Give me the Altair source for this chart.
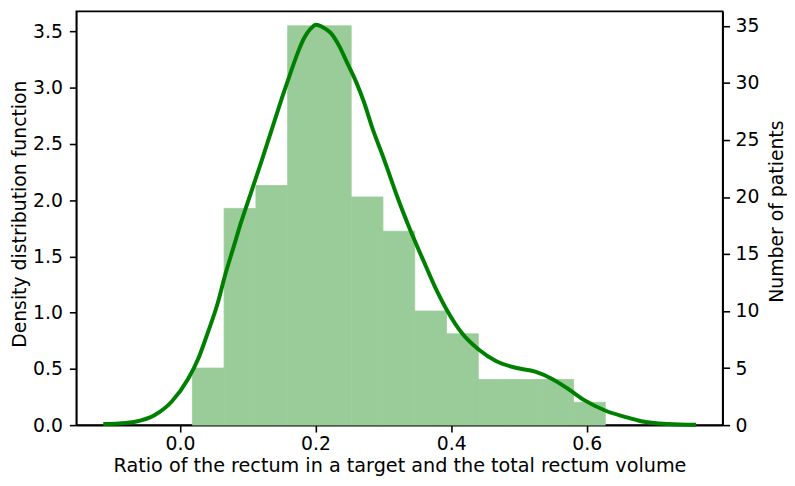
import altair as alt
import pandas as pd

# Histogram: bin edges (ratio) and number of patients per bin
bin_left = [0.0184, 0.0652, 0.1121, 0.1589, 0.2058, 0.2526, 0.2994,
            0.3463, 0.3931, 0.4400, 0.4868, 0.5336, 0.5805]
bin_right = [0.0652, 0.1121, 0.1589, 0.2058, 0.2526, 0.2994, 0.3463,
             0.3931, 0.4400, 0.4868, 0.5336, 0.5805, 0.6273]
patients = [5, 19, 21, 35, 35, 20, 17, 10, 8, 4, 4, 4, 2]

# Kernel density estimate curve
kde_x = [-0.113, -0.090, -0.066, -0.037, -0.012, 0.012, 0.027, 0.041, 0.056,
         0.066, 0.080, 0.090, 0.105, 0.120, 0.135, 0.150, 0.163, 0.175, 0.183,
         0.192, 0.201, 0.210, 0.222, 0.235, 0.246, 0.260, 0.271, 0.285, 0.300,
         0.310, 0.320, 0.340, 0.360, 0.380, 0.394, 0.417, 0.441, 0.466, 0.495,
         0.524, 0.549, 0.573, 0.597, 0.627, 0.656, 0.680, 0.720, 0.761]
kde_density = [0.01, 0.015, 0.03, 0.09, 0.21, 0.41, 0.59, 0.82, 1.09,
               1.32, 1.60, 1.80, 2.07, 2.34, 2.62, 2.90, 3.13, 3.33, 3.44,
               3.52, 3.56, 3.54, 3.49, 3.37, 3.23, 3.05, 2.88, 2.62, 2.38,
               2.21, 2.04, 1.73, 1.45, 1.18, 1.02, 0.81, 0.67, 0.57, 0.51,
               0.475, 0.41, 0.32, 0.22, 0.13, 0.074, 0.035, 0.01, 0.003]

x_ticks = [0.0, 0.2, 0.4, 0.6]
density_ticks = [0.0, 0.5, 1.0, 1.5, 2.0, 2.5, 3.0, 3.5]
count_ticks = [0, 5, 10, 15, 20, 25, 30, 35]

hist_df = pd.DataFrame({"x0": bin_left, "x1": bin_right, "count": patients})
kde_df = pd.DataFrame({"x": kde_x, "density": kde_density})

FONT = "DejaVu Sans"
BAR = "#99cc99"
xscale = alt.Scale(domain=[-0.1528, 0.8004], nice=False, zero=False)
xaxis = alt.Axis(values=x_ticks, format=".1f",
                 title="Ratio of the rectum in a target and the total rectum volume",
                 labelPadding=3, titleY=47, titleBaseline="alphabetic",
                 titleFontSize=19.4)

bars = alt.Chart(hist_df).mark_rect(color=BAR, stroke=BAR, strokeWidth=0.8).encode(
    x=alt.X("x0:Q", scale=xscale, axis=xaxis),
    x2="x1:Q",
    y=alt.Y("count:Q",
            scale=alt.Scale(domain=[0, 36.27], nice=False, zero=True),
            axis=alt.Axis(orient="right", values=count_ticks, format="d",
                          title="Number of patients", titleAngle=270,
                          titleBaseline="top", titleX=45.3, titleY=201.8,
                          labelPadding=5.5)),
    y2=alt.datum(0),
)

line = alt.Chart(kde_df).mark_line(color="#008000", strokeWidth=4,
                                   interpolate="monotone").encode(
    x=alt.X("x:Q", scale=xscale, axis=xaxis),
    y=alt.Y("density:Q",
            scale=alt.Scale(domain=[0, 3.679], nice=False, zero=True),
            axis=alt.Axis(orient="left", values=density_ticks, format=".1f",
                          title="Density distribution function", titleAngle=270,
                          titleBaseline="top", titleX=-66.2, titleY=204.4,
                          labelPadding=7)),
)

chart = alt.layer(bars, line).resolve_scale(y="independent").properties(
    width=653, height=418,
    padding={"left": 69, "top": 1, "right": 65, "bottom": 50},
    autosize=alt.AutoSizeParams(type="none"),
).configure(
    font=FONT
).configure_view(
    stroke="black", strokeWidth=1.6
).configure_axis(
    grid=False, domainColor="black", domainWidth=1.6, tickColor="black",
    tickWidth=1.6, tickSize=7, labelColor="black", titleColor="black",
    labelFont=FONT, titleFont=FONT, labelFontSize=19, titleFontSize=19,
    titleFontWeight="normal",
)

chart.save("out.html", embed_options={"renderer": "svg", "actions": False})
